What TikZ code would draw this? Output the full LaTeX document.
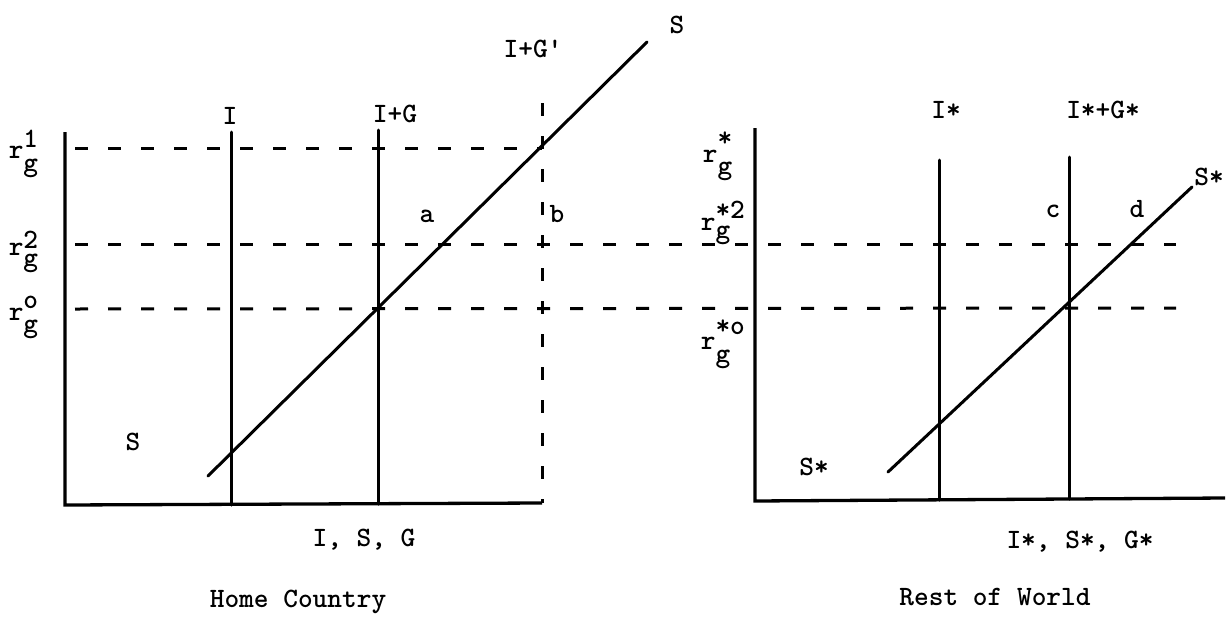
\documentclass[tikz,border=0pt]{standalone}
\usepackage{tikz}
\newcommand{\rlabel}[4]{r\rlap{\raisebox{#1}{#3}}\raisebox{#2}{#4}}
\begin{document}
\begin{tikzpicture}[x=1pt,y=-1pt,
  axis/.style={line width=3.3pt},
  curve/.style={line width=3pt, line cap=round},
  dashline/.style={line width=3pt, dash pattern=on 13pt off 20pt},
  lab/.style={font=\fontsize{28}{30}\selectfont\ttfamily\bfseries, inner sep=0pt, anchor=base},
  rlab/.style={lab, anchor=base west}]
\useasboundingbox (0,0) rectangle (1229,616);
% ---------- Home country ----------
\coordinate (HYt) at (65,132);
\coordinate (HO)  at (65,505);
\coordinate (HXe) at (542,503);
\coordinate (Itop) at (231,132);
\coordinate (Ibot) at (231,505);
\coordinate (IGtop) at (378,130);
\coordinate (IGbot) at (378,504);
\coordinate (IGptop) at (542,103);
\coordinate (IGpbot) at (542,503);
\coordinate (Sbot) at (208,476);
\coordinate (Stop) at (647,42);
\coordinate (R1a) at (75,148);
\coordinate (R1b) at (542,148);
\coordinate (R2a) at (75,244);
\coordinate (R2b) at (1176,244);
\coordinate (R0a) at (75,309);
\coordinate (R0b) at (1176,308);
\draw[axis] (HYt) -- (HO) -- (HXe);
\draw[curve] (Itop) -- (Ibot);
\draw[curve] (IGtop) -- (IGbot);
\draw[dashline] (IGptop) -- (IGpbot);
\draw[curve] (Sbot) -- (Stop);
\draw[dashline] (R1a) -- (R1b);
\draw[dashline] (R2a) -- (R2b);
\draw[dashline] (R0a) -- (R0b);
% ---------- Rest of world ----------
\coordinate (FYt) at (755,128);
\coordinate (FO)  at (755,501);
\coordinate (FXe) at (1225,498);
\coordinate (Fstop) at (939,160);
\coordinate (Fsbot) at (939,500);
\coordinate (FGtop) at (1069,157);
\coordinate (FGbot) at (1069,499);
\coordinate (FSbot) at (888,472);
\coordinate (FStop) at (1192,187);
\draw[axis] (FYt) -- (FO) -- (FXe);
\draw[curve] (Fstop) -- (Fsbot);
\draw[curve] (FGtop) -- (FGbot);
\draw[curve] (FSbot) -- (FStop);
% ---------- labels, home ----------
\node[lab] (lI)   at (230,124) {I};
\node[lab] (lIG)  at (395,122) {I+G};
\node[lab] (lIGp) at (533,57)  {I+G\textquotesingle};
\node[lab] (lS)   at (677,33)  {S};
\node[lab] (la)   at (427,222) {a};
\node[lab] (lb)   at (557,222) {b};
\node[lab] (lSl)  at (133,450) {S};
\node[lab] (lISG) at (364,546) {I, S, G};
\node[lab] (lHC)  at (298,607) {Home Country};
% r labels, home
\node[rlab] (r1) at (8.6,158) {\rlabel{11pt}{-13pt}{1}{g}};
\node[rlab] (r2) at (8.6,255) {\rlabel{7pt}{-11pt}{2}{g}};
\node[rlab] (r0) at (8.6,320) {\rlabel{12pt}{-12pt}{o}{g}};
% ---------- labels, rest of world ----------
\node[lab] (lIs)   at (946,118)  {I*};
\node[lab] (lIsGs) at (1103,118) {I*+G*};
\node[lab] (lSs)   at (1209,185) {S*};
\node[lab] (lc)    at (1053,217) {c};
\node[lab] (ld)    at (1137,217) {d};
\node[lab] (lSsl)  at (814,475)  {S*};
\node[lab] (lISGs) at (1080,548) {I*, S*, G*};
\node[lab] (lRW)   at (995,605)  {Rest of World};
% r labels, rest of world
\node[rlab] (q1) at (702.6,162) {\rlabel{16pt}{-12pt}{*}{g}};
\node[rlab] (q2) at (700.6,230) {\rlabel{12pt}{-8pt}{*2}{g}};
\node[rlab] (q0) at (700.6,349) {\rlabel{15pt}{-13pt}{*o}{g}};
\end{tikzpicture}
\end{document}
